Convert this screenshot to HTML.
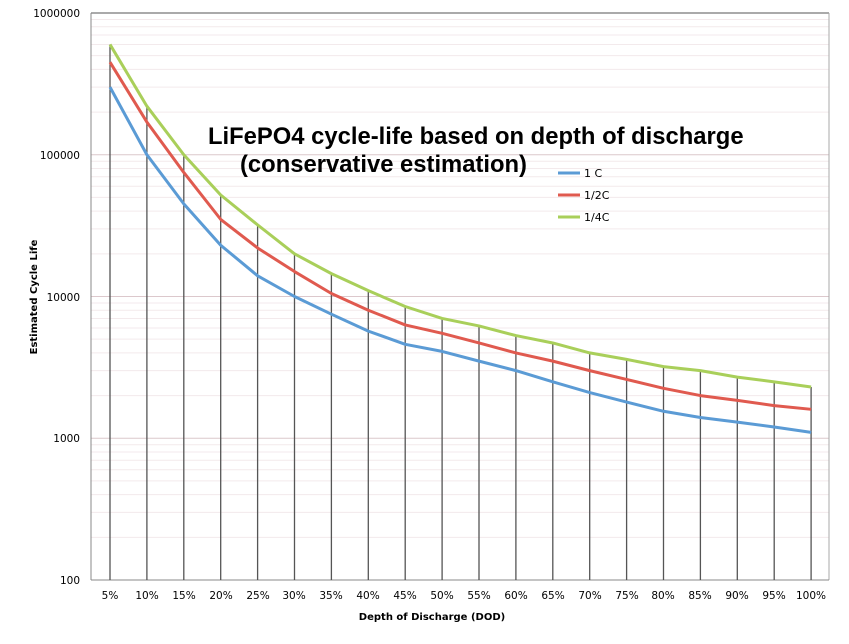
<!DOCTYPE html><html><head><meta charset="utf-8"><style>body{margin:0;background:#fff}svg{display:block;font-family:"DejaVu Sans","Liberation Sans",sans-serif}</style></head><body>
<svg id="s" width="849" height="644" xmlns="http://www.w3.org/2000/svg">
<g id="grid"></g>
<line x1="91" y1="13" x2="829" y2="13" stroke="#555"/>
<line x1="829" y1="13" x2="829" y2="580" stroke="#aaa"/>
<line x1="91" y1="13" x2="91" y2="580" stroke="#888"/>
<line x1="91" y1="580" x2="829" y2="580" stroke="#888"/>
<g id="drops"></g>
<g id="lines"></g>
<g font-size="10.5" fill="#000" text-anchor="end">
<text x="80" y="17">1000000</text><text x="80" y="159">100000</text><text x="80" y="301">10000</text><text x="80" y="442">1000</text><text x="80" y="584">100</text>
</g>
<g font-size="10.5" text-anchor="middle">
<text x="110" y="599">5%</text><text x="147" y="599">10%</text><text x="184" y="599">15%</text><text x="221" y="599">20%</text><text x="258" y="599">25%</text><text x="294" y="599">30%</text><text x="331" y="599">35%</text><text x="368" y="599">40%</text><text x="405" y="599">45%</text><text x="442" y="599">50%</text><text x="479" y="599">55%</text><text x="516" y="599">60%</text><text x="553" y="599">65%</text><text x="590" y="599">70%</text><text x="627" y="599">75%</text><text x="663" y="599">80%</text><text x="700" y="599">85%</text><text x="737" y="599">90%</text><text x="774" y="599">95%</text><text x="811" y="599">100%</text>
<text x="432" y="620" font-weight="bold" font-size="10">Depth of Discharge (DOD)</text>
<text transform="translate(37,297) rotate(-90)" font-weight="bold" font-size="10">Estimated Cycle Life</text>
</g>
<g font-family="Liberation Sans,sans-serif" font-weight="bold" font-size="23.8">
<text x="208" y="144">LiFePO4 cycle-life based on depth of discharge</text>
<text x="240" y="172">(conservative estimation)</text>
</g>
<g font-size="11">
<line x1="558" y1="173" x2="580" y2="173" stroke="#5b9bd5" stroke-width="3"/><text x="584" y="177">1 C</text>
<line x1="558" y1="195" x2="580" y2="195" stroke="#e05a4f" stroke-width="3"/><text x="584" y="199">1/2C</text>
<line x1="558" y1="217" x2="580" y2="217" stroke="#a9cf5a" stroke-width="3"/><text x="584" y="221">1/4C</text>
</g>
</svg>
<script>
var NS="http://www.w3.org/2000/svg";
function Y(v){return 580-(Math.log10(v)-2)*141.75}
function X(i){return 110+i*36.9}
function el(p,t,a){var e=document.createElementNS(NS,t);for(var k in a)e.setAttribute(k,a[k]);document.getElementById(p).appendChild(e)}
for(var d=2;d<6;d++)for(var m=2;m<=10;m++){var y=Y(m*Math.pow(10,d));el("grid","line",{x1:91,x2:829,y1:y,y2:y,stroke:m==10?"#dcc8cc":"#f3eaec","stroke-width":1})}
var G=[600000,220000,100000,52000,32000,20000,14500,11000,8500,7000,6200,5300,4700,4000,3600,3200,3000,2700,2500,2300];
var R=[450000,170000,75000,35000,22000,15000,10500,8000,6300,5500,4700,4000,3500,3000,2600,2250,2000,1850,1700,1600];
var B=[300000,100000,45000,23000,14000,10000,7500,5700,4600,4100,3500,3000,2500,2100,1800,1550,1400,1300,1200,1100];
G.forEach(function(v,i){el("drops","line",{x1:X(i),x2:X(i),y1:Y(v),y2:580,stroke:"#555","stroke-width":1.3})});
[[B,"#5b9bd5"],[R,"#e05a4f"],[G,"#a9cf5a"]].forEach(function(s){el("lines","polyline",{points:s[0].map(function(v,i){return X(i)+","+Y(v)}).join(" "),fill:"none",stroke:s[1],"stroke-width":3,"stroke-linejoin":"round"})});
</script>
</body></html>
